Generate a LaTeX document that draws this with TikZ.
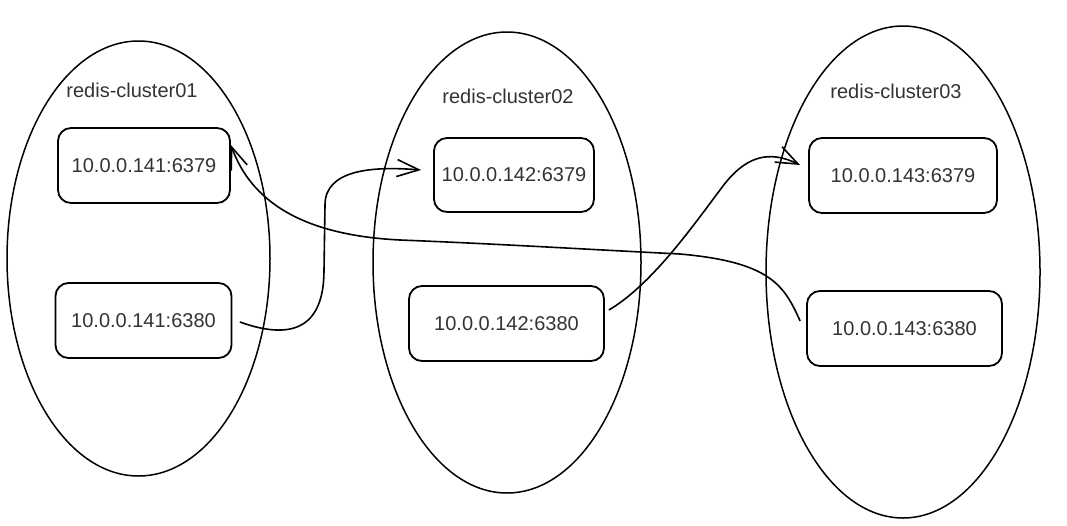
\documentclass[tikz,border=0pt]{standalone}
\usepackage{fontspec}
\setmainfont{Liberation Sans}
\usetikzlibrary{shapes.geometric,arrows.meta}
\newcommand{\hostfont}{\fontsize{20}{24}\selectfont}
\tikzset{
  cluster/.style={draw, ellipse, line width=1.5pt, inner sep=0pt},
  clustertitle/.style={font=\hostfont, text=black!80, inner sep=0pt},
  hostbox/.style={draw, rounded corners=13pt, line width=1.8pt, inner sep=0pt,
    minimum height=75pt, font=\hostfont, text=black!80},
  link/.style={line width=1.6pt, -{Straight Barb[length=22pt,width=17pt]}}
}

\begin{document}
\begin{tikzpicture}[x=1pt,y=-1pt]
\useasboundingbox (0,0) rectangle (1067,525);
% clusters
\node[cluster, minimum width=263pt, minimum height=435pt] (c1) at (138.5,258.5) {};
\node[cluster, minimum width=268pt, minimum height=461pt] (c2) at (507,262.5) {};
\node[cluster, minimum width=274pt, minimum height=492pt] (c3) at (903,272) {};
\node[clustertitle] (t1) at (132,90) {redis-cluster01};
\node[clustertitle] (t2) at (508,96) {redis-cluster02};
\node[clustertitle] (t3) at (896,91) {redis-cluster03};
% hosts
\node[hostbox, minimum width=172pt] (h141a) at (144,165.5) {10.0.0.141:6379};
\node[hostbox, minimum width=176pt] (h141b) at (143.5,320.5) {10.0.0.141:6380};
\node[hostbox, minimum width=160pt, minimum height=74pt] (h142a) at (514,175) {10.0.0.142:6379};
\node[hostbox, minimum width=195pt] (h142b) at (506.5,323.5) {10.0.0.142:6380};
\node[hostbox, minimum width=188pt] (h143a) at (903,175.5) {10.0.0.143:6379};
\node[hostbox, minimum width=195pt] (h143b) at (904.5,328.5) {10.0.0.143:6380};
% links
\draw[link] ([shift={(7.5,1.5)}]h141b.east) .. controls +(50,18) and +(0,60) .. (324,270)
  -- (325,205) .. controls +(0,-35) and +(-50,-4) .. ([shift={(-12,-5)}]h142a.west);
\draw[link] ([shift={(4,-13.5)}]h142b.east) .. controls +(42,-25) and +(-30,40) .. (720,190)
  .. controls +(25,-35) and +(-31,-15) .. ([shift={(-8,-10.5)}]h143a.west);
\draw[link] ([shift={(-6,-7.5)}]h143b.west) .. controls +(-16,-36) and +(90,8) .. (680,254)
  .. controls +(-100,-5) and +(100,4) .. (400,240)
  .. controls +(-100,-5) and +(20,55) .. ([shift={(0,-20.5)}]h141a.east);
\end{tikzpicture}
\end{document}
